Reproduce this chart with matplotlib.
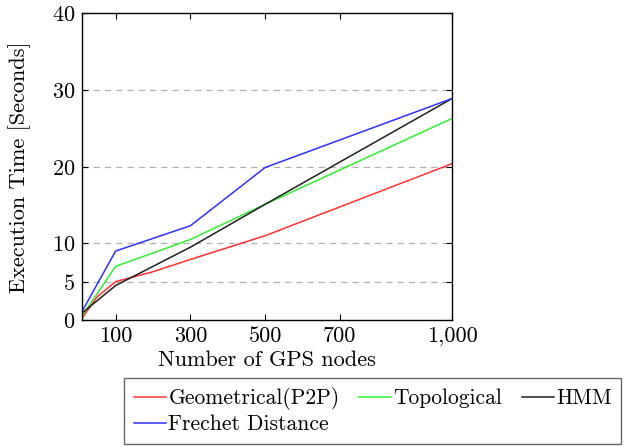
import matplotlib.pyplot as plt

plt.rcParams['font.family'] = 'serif'
plt.rcParams['font.serif'] = ['cmr10', 'DejaVu Serif']
plt.rcParams['axes.formatter.use_mathtext'] = True

# execution times
nodes = [10, 100, 300, 500, 1000]
red_nodes = [10, 50, 100, 200, 300, 500, 1000]
geometrical = [0.2, 3.0, 5.0, 6.3, 7.9, 11.0, 20.4]
topological = [0.5, 7.0, 10.5, 15.1, 26.3]
hmm = [0.9, 4.5, 9.5, 15.1, 28.9]
frechet = [1.1, 9.0, 12.3, 19.9, 28.9]

x_ticks = [100, 300, 500, 700, 1000]
x_labels = ['100', '300', '500', '700', '1,000']
y_ticks = [0, 5, 10, 20, 30, 40]

fs = 16

fig = plt.figure(figsize=(6.24, 4.47), dpi=100)
ax = fig.add_axes([0.1314, 0.2841, 0.593, 0.6857])

for y in [5, 10, 20, 30]:
    ax.axhline(y, color='#b0b0b0', linestyle=(0, (5, 4)), linewidth=0.9, zorder=0)

l_geo, = ax.plot(red_nodes, geometrical, color='#ff3030', linewidth=1.1, label='Geometrical(P2P)')
l_top, = ax.plot(nodes, topological, color='#30f030', linewidth=1.1, label='Topological')
l_hmm, = ax.plot(nodes, hmm, color='#202020', linewidth=1.1, label='HMM')
l_fre, = ax.plot(nodes, frechet, color='#3030ff', linewidth=1.1, label='Frechet Distance')

ax.set_xlim(10, 1000)
ax.set_ylim(0, 40)
ax.set_xticks(x_ticks)
ax.set_xticklabels(x_labels)
ax.set_yticks(y_ticks)
ax.tick_params(direction='in', top=True, right=True, length=4, labelsize=fs, pad=5)
for s in ax.spines.values():
    s.set_linewidth(1.0)

ax.set_xlabel('Number of GPS nodes', fontsize=fs, labelpad=3)
ax.set_ylabel('Execution Time [Seconds]', fontsize=fs, labelpad=15)

# column-wise fill: Geo/Frechet, Topological, HMM
handles = [l_geo, l_fre, l_top, l_hmm]
leg = fig.legend(handles, [h.get_label() for h in handles],
                 loc='upper left', bbox_to_anchor=(0.199, 0.155), ncol=3,
                 fontsize=15.5, frameon=True, fancybox=False, edgecolor='#404040',
                 handlelength=1.5, handletextpad=0.1, columnspacing=0.9,
                 borderpad=0.45, labelspacing=0.2, borderaxespad=0)
leg.get_frame().set_linewidth(1.0)

fig.savefig('out.png', dpi=100)
